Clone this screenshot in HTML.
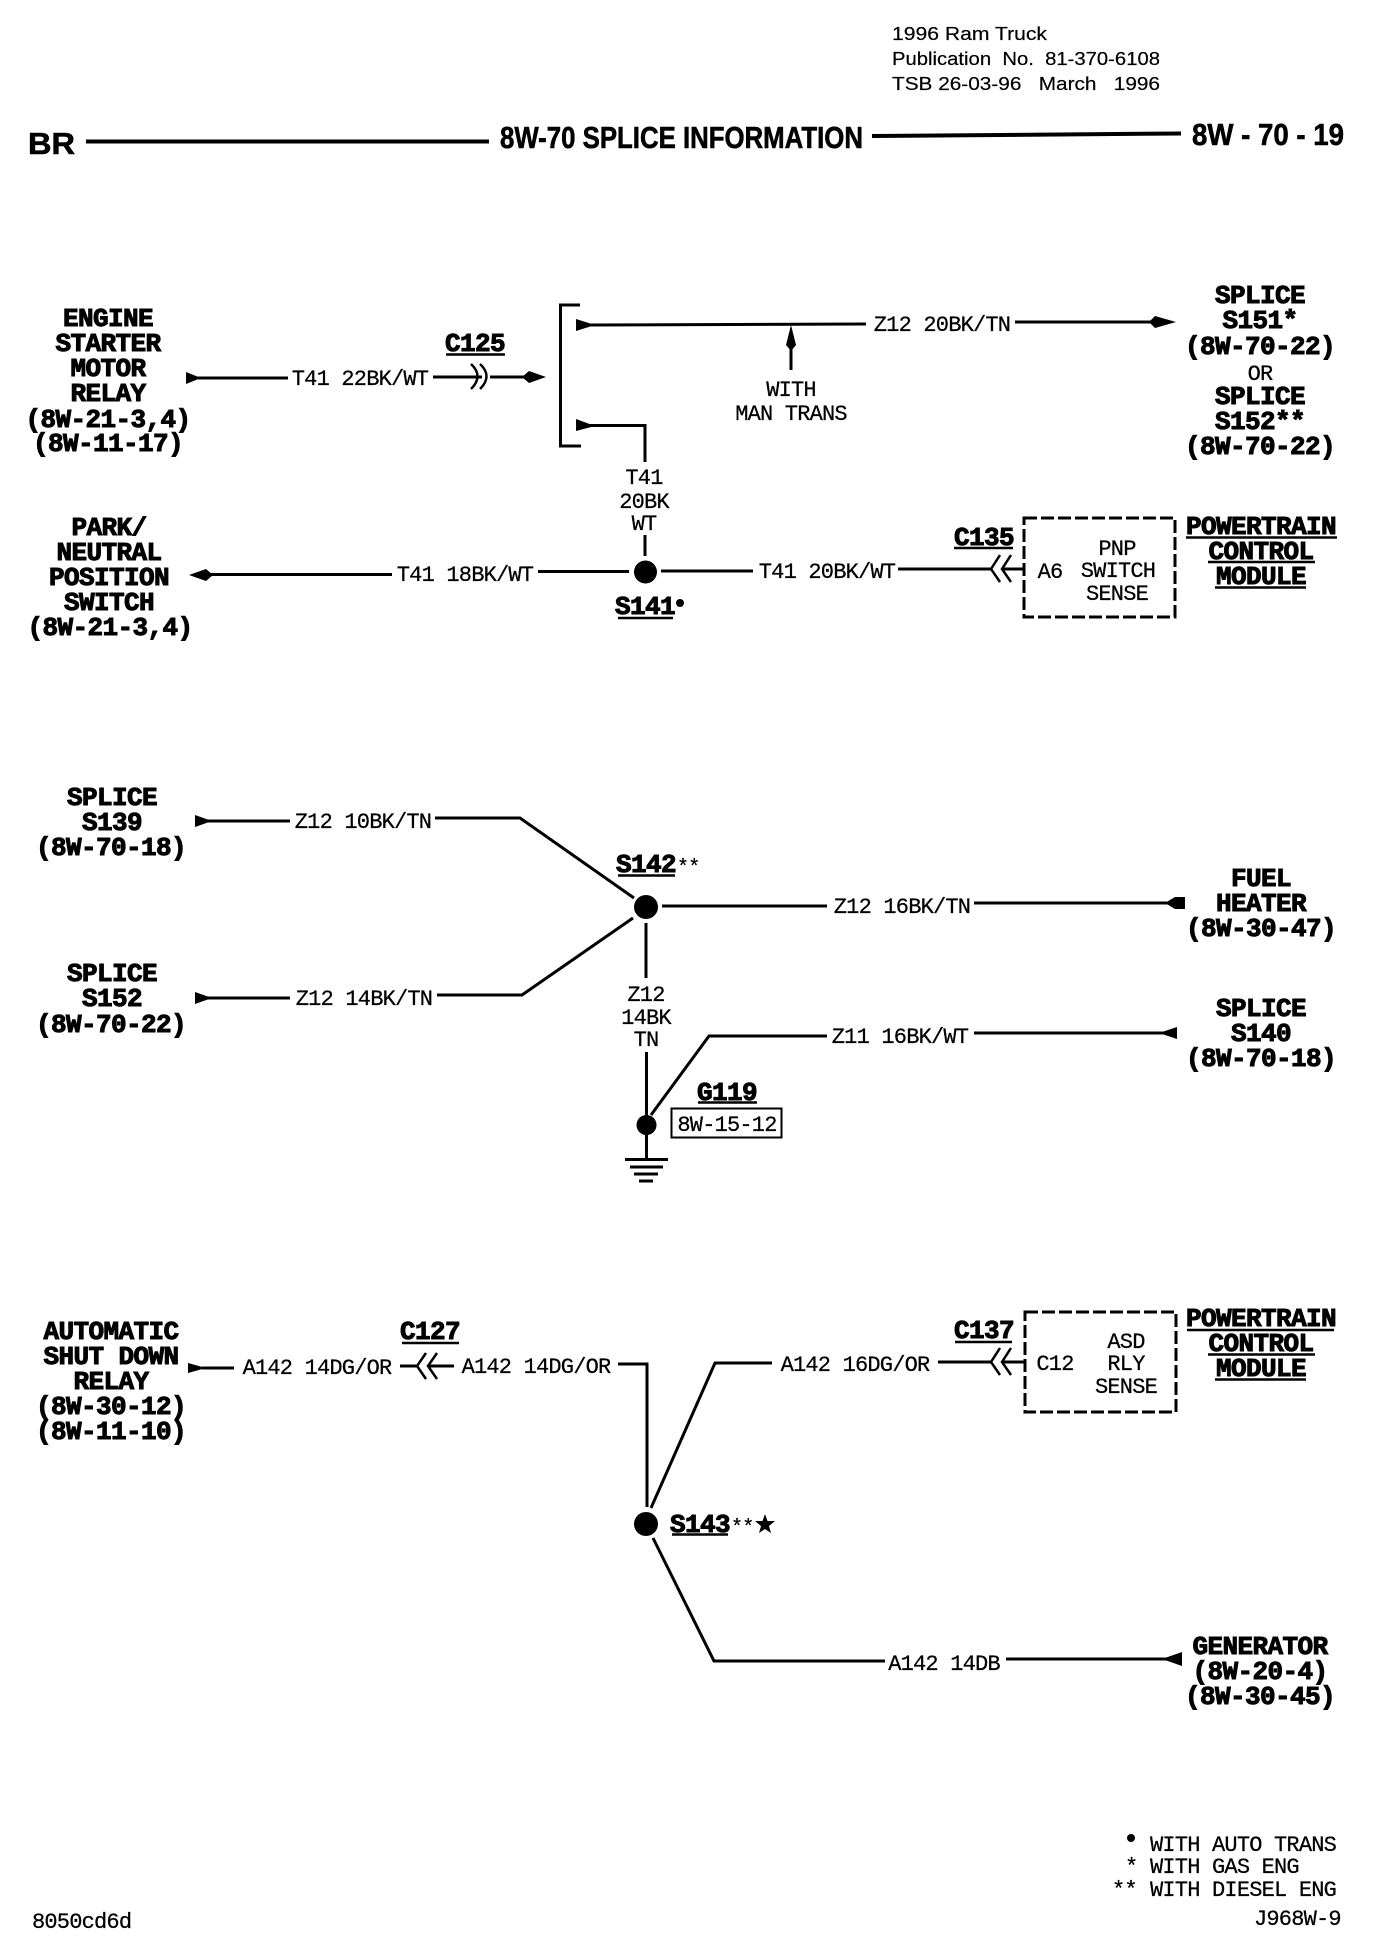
<!DOCTYPE html>
<html><head><meta charset="utf-8"><style>
html,body{margin:0;padding:0;background:#fff}
svg{display:block}
text{fill:#000;white-space:pre}
.r{font:22px "Liberation Mono",monospace;letter-spacing:-.8px;text-anchor:middle;stroke:#000;stroke-width:.25}
.l{text-anchor:start}
.b{font:bold 26px "Liberation Mono",monospace;letter-spacing:-.6px;text-anchor:middle;stroke:#000;stroke-width:1}
.h{font:18.5px "Liberation Sans",sans-serif;stroke:#000;stroke-width:.2}
.t{font:bold 31px "Liberation Sans",sans-serif;stroke:#000;stroke-width:.6}
path,line{fill:none;stroke:#000;stroke-width:3}
.u{stroke-width:2.5}
.d{stroke-dasharray:13 4}
</style></head><body>
<svg width="1376" height="1946" viewBox="0 0 1376 1946" xmlns="http://www.w3.org/2000/svg">
<rect width="1376" height="1946" fill="#fff"/>
<!-- header -->
<text class="h" x="892" y="40" textLength="155" lengthAdjust="spacingAndGlyphs">1996 Ram Truck</text>
<text class="h" x="892" y="65" textLength="268" lengthAdjust="spacingAndGlyphs">Publication  No.  81-370-6108</text>
<text class="h" x="892" y="90" textLength="268" lengthAdjust="spacingAndGlyphs">TSB 26-03-96   March   1996</text>
<text class="t" x="28" y="154" textLength="47" lengthAdjust="spacingAndGlyphs">BR</text>
<path d="M86 141.500H489" style="stroke-width:4"/>
<text class="t" x="500" y="148" textLength="363" lengthAdjust="spacingAndGlyphs">8W-70 SPLICE INFORMATION</text>
<path d="M872 136L1181 133.500" style="stroke-width:4"/>
<text class="t" x="1192" y="145" textLength="152" lengthAdjust="spacingAndGlyphs">8W - 70 - 19</text>

<!-- section 1 -->
<text class="b" x="108" y="326">ENGINE</text>
<text class="b" x="108" y="351">STARTER</text>
<text class="b" x="108" y="376">MOTOR</text>
<text class="b" x="108" y="401">RELAY</text>
<text class="b" x="108" y="427">(8W-21-3,4)</text>
<text class="b" x="108" y="451">(8W-11-17)</text>
<polygon points="186,372 186,384 201,378"/>
<path d="M198 378H288"/>
<text class="r" x="360" y="385">T41 22BK/WT</text>
<path d="M433 377H482M490 377H524"/>
<path d="M471 364Q484 376 471 389M480 364Q493 376 480 389" style="stroke-width:2.500"/>
<polygon points="546,377 529,371 522,377 529,383"/>
<text class="b" x="475" y="351">C125</text>
<path class="u" d="M446 354.500H505"/>
<path d="M580 305H560.500V446H581"/>
<polygon points="576,319 576,331 595,325"/>
<path d="M590 325L866 324"/>
<text class="r" x="942" y="331">Z12 20BK/TN</text>
<path d="M1015 322H1155"/>
<polygon points="1176,322 1155,316 1149,322 1155,328"/>
<path d="M791 370V335"/>
<polygon points="791,325 786,345 791,351 796,345"/>
<text class="r" x="791" y="396">WITH</text>
<text class="r" x="791" y="420">MAN TRANS</text>
<polygon points="576,419 576,431 595,426"/>
<path d="M590 425.500H645V462"/>
<text class="r" x="644" y="484">T41</text>
<text class="r" x="644" y="508">20BK</text>
<text class="r" x="644" y="530">WT</text>
<path d="M645 535V556"/>
<circle cx="645.500" cy="572" r="11.500"/>
<path d="M538 571.500H629"/>
<text class="r" x="465" y="581">T41 18BK/WT</text>
<path d="M210 574.500H392"/>
<polygon points="189,575 206,569 213,575 206,581"/>
<text class="b" x="645" y="614">S141</text>
<path class="u" d="M618 618H673"/>
<circle cx="680" cy="603" r="4"/>
<text class="b" x="109" y="535">PARK/</text>
<text class="b" x="109" y="560">NEUTRAL</text>
<text class="b" x="109" y="585">POSITION</text>
<text class="b" x="109" y="610">SWITCH</text>
<text class="b" x="110" y="635">(8W-21-3,4)</text>
<path d="M661 571H753"/>
<text class="r" x="827" y="578">T41 20BK/WT</text>
<path d="M898 569H991M1002 569H1024"/>
<path d="M1000 555L991 569L1000 582M1011 555L1002 569L1011 582" style="stroke-width:2.500"/>
<rect x="1024" y="518" width="151" height="99" fill="none" stroke="#000" stroke-width="3" stroke-dasharray="13 4"/>
<text class="b" x="984" y="545">C135</text>
<path class="u" d="M954 548H1013"/>
<text class="r" x="1050" y="578">A6</text>
<text class="r" x="1117" y="555">PNP</text>
<text class="r" x="1118" y="577">SWITCH</text>
<text class="r" x="1117" y="600">SENSE</text>
<text class="b" x="1260" y="303">SPLICE</text>
<text class="b" x="1260" y="328">S151*</text>
<text class="b" x="1260" y="354">(8W-70-22)</text>
<text class="r" x="1260" y="380">OR</text>
<text class="b" x="1260" y="404">SPLICE</text>
<text class="b" x="1260" y="429">S152**</text>
<text class="b" x="1260" y="454">(8W-70-22)</text>
<text class="b" x="1261" y="534">POWERTRAIN</text>
<path class="u" d="M1186 537.500H1337"/>
<text class="b" x="1261" y="559">CONTROL</text>
<path class="u" d="M1208 562H1315"/>
<text class="b" x="1261" y="584">MODULE</text>
<path class="u" d="M1215 587.500H1306"/>

<!-- section 2 -->
<text class="b" x="112" y="805">SPLICE</text>
<text class="b" x="112" y="830">S139</text>
<text class="b" x="111" y="855">(8W-70-18)</text>
<polygon points="195,815 195,827 212,821"/>
<path d="M208 821H290"/>
<text class="r" x="363" y="828">Z12 10BK/TN</text>
<path d="M435 818H520L634 898"/>
<text class="b" x="112" y="981">SPLICE</text>
<text class="b" x="112" y="1006">S152</text>
<text class="b" x="111" y="1032">(8W-70-22)</text>
<polygon points="195,992 195,1004 212,998"/>
<path d="M208 998H290"/>
<text class="r" x="364" y="1005">Z12 14BK/TN</text>
<path d="M437 995H522L633 918"/>
<circle cx="646" cy="907" r="12"/>
<text class="b" x="646" y="872">S142</text>
<path class="u" d="M618 875.500H675"/>
<text class="r l" x="677" y="873" style="font-size:20px">**</text>
<path d="M646 923V978"/>
<text class="r" x="646" y="1001">Z12</text>
<text class="r" x="646" y="1024">14BK</text>
<text class="r" x="646" y="1046">TN</text>
<path d="M646.500 1052V1158"/>
<circle cx="646.500" cy="1125" r="10"/>
<path d="M625 1159.500H668M630 1167H663M634 1174H658M639 1181H653"/>
<path d="M651 1115L709 1036H827"/>
<text class="r" x="900" y="1043">Z11 16BK/WT</text>
<path d="M974 1033H1165"/>
<polygon points="1159,1033 1177,1027 1177,1039"/>
<path d="M662 906H827"/>
<text class="r" x="902" y="913">Z12 16BK/TN</text>
<path d="M974 903H1170"/>
<polygon points="1165,903 1175,897 1185,897 1185,909 1175,909"/>
<text class="b" x="1261" y="886">FUEL</text>
<text class="b" x="1261" y="911">HEATER</text>
<text class="b" x="1261" y="936">(8W-30-47)</text>
<text class="b" x="1261" y="1016">SPLICE</text>
<text class="b" x="1261" y="1041">S140</text>
<text class="b" x="1261" y="1066">(8W-70-18)</text>
<text class="b" x="727" y="1100">G119</text>
<path class="u" d="M698 1102.500H757"/>
<rect x="671.500" y="1108.500" width="110" height="29" fill="none" stroke="#000" stroke-width="2"/>
<text class="r" x="727" y="1131">8W-15-12</text>

<!-- section 3 -->
<text class="b" x="111" y="1339">AUTOMATIC</text>
<text class="b" x="111" y="1364">SHUT DOWN</text>
<text class="b" x="111" y="1389">RELAY</text>
<text class="b" x="111" y="1414">(8W-30-12)</text>
<text class="b" x="111" y="1439">(8W-11-10)</text>
<polygon points="188,1363 188,1373 206,1368"/>
<path d="M202 1368H234"/>
<text class="r" x="317" y="1374">A142 14DG/OR</text>
<path d="M400 1366H417M429 1366H454"/>
<path d="M426 1353L417 1366L426 1379M437 1353L428 1366L437 1379" style="stroke-width:2.500"/>
<text class="r" x="536" y="1373">A142 14DG/OR</text>
<path d="M618 1364H647V1507"/>
<text class="b" x="430" y="1339">C127</text>
<path class="u" d="M402 1343H459"/>
<circle cx="646" cy="1524" r="12"/>
<path d="M651 1508L715 1363H772"/>
<text class="r" x="855" y="1371">A142 16DG/OR</text>
<path d="M938 1362H991M1002 1362H1025"/>
<path d="M1000 1348L991 1362L1000 1375M1011 1348L1002 1362L1011 1375" style="stroke-width:2.500"/>
<rect x="1025" y="1312" width="151" height="100" fill="none" stroke="#000" stroke-width="3" stroke-dasharray="13 4"/>
<text class="b" x="984" y="1338">C137</text>
<path class="u" d="M955 1342H1012"/>
<text class="r" x="1055" y="1370">C12</text>
<text class="r" x="1126" y="1348">ASD</text>
<text class="r" x="1126" y="1370">RLY</text>
<text class="r" x="1126" y="1393">SENSE</text>
<text class="b" x="1261" y="1326">POWERTRAIN</text>
<path class="u" d="M1187 1330H1334"/>
<text class="b" x="1261" y="1351">CONTROL</text>
<path class="u" d="M1208 1354.500H1315"/>
<text class="b" x="1261" y="1376">MODULE</text>
<path class="u" d="M1215 1379.500H1306"/>
<text class="b" x="700" y="1532">S143</text>
<path class="u" d="M672 1534.500H728"/>
<text class="r l" x="731" y="1533" style="font-size:20px">**</text>
<polygon points="765,1514 767.500,1521 775,1521 769,1526 771,1533 765,1529 759,1533 761,1526 755,1521 762.500,1521"/>
<path d="M653 1538L714 1661H885"/>
<text class="r" x="944" y="1670">A142 14DB</text>
<path d="M1006 1659H1170"/>
<polygon points="1162,1659 1182,1652 1182,1666"/>
<text class="b" x="1260" y="1654">GENERATOR</text>
<text class="b" x="1260" y="1679">(8W-20-4)</text>
<text class="b" x="1260" y="1704">(8W-30-45)</text>

<!-- footer -->
<circle cx="1131" cy="1838" r="4"/>
<text class="r l" x="1150" y="1851">WITH AUTO TRANS</text>
<text class="r l" x="1125" y="1873">*</text>
<text class="r l" x="1150" y="1873">WITH GAS ENG</text>
<text class="r l" x="1112" y="1896">**</text>
<text class="r l" x="1150" y="1896">WITH DIESEL ENG</text>
<text class="r l" x="1254" y="1925">J968W-9</text>
<text class="r l" x="32" y="1928">8050cd6d</text>
</svg>
</body></html>
